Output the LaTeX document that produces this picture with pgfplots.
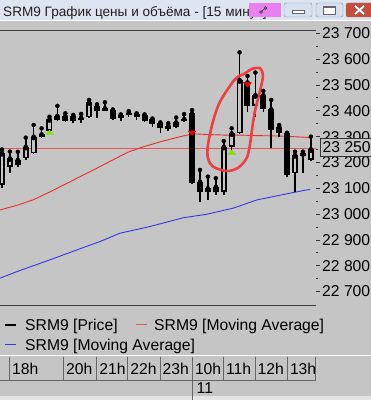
\documentclass[border=0pt]{standalone}
\usepackage{pgfplots}
\pgfplotsset{compat=1.18}
\usepackage{pgfplotstable}
\usepackage{fontspec}
\setmainfont{Liberation Sans}
\newcommand\ticksize{\fontsize{15.7}{16}\selectfont}
\newcommand\titlesize{\fontsize{13.6}{15}\selectfont}
\definecolor{chartbg}{RGB}{197,197,197}
\definecolor{titlebg}{RGB}{221,229,240}
\definecolor{pinkc}{RGB}{232,128,240}
\definecolor{redma}{RGB}{235,45,45}
\definecolor{pricec}{RGB}{228,90,90}
\definecolor{bluema}{RGB}{55,55,230}
\definecolor{ovalc}{RGB}{238,64,64}
\definecolor{limec}{RGB}{120,230,0}
\definecolor{redm}{RGB}{235,0,0}
\definecolor{btnfill}{RGB}{214,225,240}
\definecolor{btnborder}{RGB}{130,145,170}
\definecolor{closefill}{RGB}{200,75,60}

\pgfplotstableread{
i o h l c
0 23113 23250 23100 23237
1 23184 23242 23158 23216
3 23216 23296 23210 23261
4 23236 23345 23232 23300
6 23322 23377 23320 23368
7 23364 23419 23360 23381
11 23375 23442 23372 23433
22 23336 23374 23334 23355
28 23087 23283 23074 23261
29 23261 23332 23236 23313
30 23313 23626 23310 23519
32 23420 23548 23377 23461
37 23158 23242 23087 23229
38 23224 23242 23158 23236
39 23210 23300 23205 23251
}\upc

\pgfplotstableread{
i o h l c
2 23210 23241 23183 23190
5 23309 23332 23295 23297
8 23380 23390 23358 23362
9 23380 23384 23352 23361
10 23374 23388 23352 23366
12 23420 23425 23371 23399
13 23410 23433 23398 23401
14 23403 23405 23365 23368
15 23384 23386 23362 23371
16 23392 23399 23375 23384
17 23388 23390 23365 23375
18 23384 23386 23358 23361
19 23368 23370 23339 23348
20 23352 23355 23313 23332
21 23343 23352 23320 23328
23 23368 23387 23358 23361
24 23390 23403 23115 23119
25 23126 23171 23048 23087
26 23100 23145 23055 23087
27 23106 23139 23074 23087
31 23510 23535 23395 23420
33 23461 23477 23394 23407
34 23406 23442 23255 23326
35 23339 23345 23300 23313
36 23313 23315 23145 23152
}\downc

\begin{document}
\begin{tikzpicture}
\useasboundingbox (0,0) rectangle (371pt,400pt);
\clip (0,0) rectangle (371pt,400pt);
% backgrounds
\fill[chartbg] (0,0) rectangle (371pt,380pt);
\fill[black!10] (0,0) rectangle (371pt,3.5pt);
\fill[titlebg] (0,380pt) rectangle (371pt,400pt);
\draw[white, line width=0.8pt] (0,379.6pt) -- (371pt,379.6pt);
% title bar
\node[anchor=base west, inner sep=0, font=\titlesize, text=black!88] at (3pt,383.3pt) {SRM9 График цены и объёма - [15 минут]};
\fill[pinkc] (249pt,383pt) rectangle (281pt,397pt);
\draw[black!75, line width=0.7pt] (261pt,388pt) circle (1.4pt) (265.5pt,392pt) circle (1.4pt);
\draw[black!75, line width=0.7pt] (262pt,389pt) -- (264.5pt,391pt);
\draw[btnborder, fill=btnfill, rounded corners=2pt] (284pt,383pt) rectangle (312pt,397pt);
\draw[black!60, fill=white, line width=0.6pt] (292pt,387pt) rectangle (304pt,390pt);
\draw[btnborder, fill=btnfill, rounded corners=2pt] (316pt,383pt) rectangle (343pt,397pt);
\draw[black!60, fill=white, line width=0.6pt] (323pt,386pt) rectangle (335pt,394pt);
\draw[black!60, line width=1.6pt] (323pt,393.2pt) -- (335pt,393.2pt);
\draw[black!50, fill=closefill, rounded corners=2pt] (346pt,383pt) rectangle (376pt,397pt);
\draw[black!60, line width=3pt] (355pt,386pt) -- (364pt,394pt) (355pt,394pt) -- (364pt,386pt);
\draw[white, line width=1.8pt] (355pt,386pt) -- (364pt,394pt) (355pt,394pt) -- (364pt,386pt);

\begin{axis}[
  at={(0pt,95pt)}, anchor=south west,
  scale only axis, width=316pt, height=275pt,
  xmin=-0.25, xmax=39.65, ymin=22648, ymax=23712.8,
  axis line style={draw=none},
  xtick=\empty,
  ytick={22700,22800,22900,23000,23100,23200,23300,23400,23500,23600,23700},
  yticklabels={22 700,22 800,22 900,23 000,23 100,23 200,23 300,23 400,23 500,23 600,23 700},
  ytick pos=right, yticklabel pos=right,
  tick align=outside,
  major tick length=4pt, minor tick length=2.5pt,
  minor y tick num=1,
  every tick/.style={black!80, line width=0.8pt},
  yticklabel style={font=\ticksize, anchor=west, inner sep=0pt, xshift=2pt},
  scaled y ticks=false,
]
% price line and moving averages
\addplot[pricec, line width=1pt, forget plot] coordinates {(-0.25,23255) (39.65,23255)};
\addplot[redma, line width=0.9pt, forget plot] coordinates {
(-0.25,23016) (2,23035) (4,23056) (6,23085) (8,23116) (10,23147) (12,23178)
(14,23210) (16,23241) (18,23262) (20,23280) (22,23296) (23.4,23306) (24,23311)
(26,23308) (28,23306) (30,23306) (32,23304) (34,23303) (36,23301) (38,23298) (39,23296)};
\addplot[bluema, line width=0.9pt, forget plot] coordinates {
(-0.25,22752) (1.86,22777) (6.06,22823) (9.43,22861) (12.4,22894) (14.9,22926)
(18.7,22952) (22.9,22986) (25.8,22999) (29.2,23023) (32.2,23055) (36.7,23083) (38.9,23096)};
% wicks
\addplot[only marks, mark=none, forget plot, error bars/.cd, y dir=minus, y explicit, error mark=none,
  error bar style={line width=1.6pt, draw=black}]
  table[x=i, y=h, y error minus expr={\thisrow{h}-\thisrow{l}}] {\upc};
\addplot[only marks, mark=none, forget plot, error bars/.cd, y dir=minus, y explicit, error mark=none,
  error bar style={line width=1.6pt, draw=black}]
  table[x=i, y=h, y error minus expr={\thisrow{h}-\thisrow{l}}] {\downc};
% bodies
\addplot[only marks, mark=none, forget plot, error bars/.cd, y dir=minus, y explicit, error mark=none,
  error bar style={line width=6pt, draw=black}]
  table[x=i, y=o, y error minus expr={\thisrow{o}-\thisrow{c}}] {\downc};
\addplot[only marks, mark=none, forget plot, error bars/.cd, y dir=minus, y explicit, error mark=none,
  error bar style={line width=6pt, draw=black}]
  table[x=i, y=c, y error minus expr={\thisrow{c}-\thisrow{o}}] {\upc};
\addplot[only marks, mark=none, forget plot, error bars/.cd, y dir=minus, y explicit, error mark=none,
  error bar style={line width=2.4pt, draw=chartbg}]
  table[x=i, y expr={\thisrow{c}-6}, y error minus expr={max(\thisrow{c}-\thisrow{o}-12,0)}] {\upc};
% signal markers
\addplot[only marks, mark=triangle*, mark size=4.6pt, mark options={yscale=0.65, fill=limec, draw=limec}, forget plot]
  coordinates {(6,23314) (29,23237)};
\addplot[only marks, mark=triangle*, mark size=4.6pt, mark options={rotate=180, yscale=0.65, fill=redm, draw=redm}, forget plot]
  coordinates {(24,23316) (31,23503)};
% hand-drawn annotation
\addplot[ovalc, line width=2.6pt, smooth, tension=0.55, forget plot] coordinates {
(29.80,23532) (29.17,23513) (27.53,23435) (26.64,23358) (26.01,23268) (26.01,23217)
(26.64,23184) (28.37,23167) (29.80,23179) (30.90,23217) (31.31,23268) (31.60,23333)
(31.95,23400) (32.45,23461) (32.85,23513) (32.95,23540) (32.58,23565) (31.53,23562)
(30.68,23545) (29.80,23532) (29.17,23513)};
% frame
\draw[black!75, line width=0.9pt] (rel axis cs:0,1) -- (rel axis cs:1,1) -- (rel axis cs:1,0) -- (rel axis cs:0,0);
\end{axis}

% current price box
\draw[black!80, fill=chartbg, line width=0.8pt] (320pt,243.3pt) rectangle (380pt,261.7pt);
\node[anchor=west, inner sep=0, font=\ticksize] at (322.5pt,252.5pt) {23 250};

% legend
\draw[black, line width=2.6pt] (5pt,75pt) -- (16pt,75pt);
\node[anchor=base west, inner sep=0, font=\ticksize] at (25pt,69.4pt) {SRM9 [Price]};
\draw[pricec, line width=1pt] (136pt,75pt) -- (147pt,75pt);
\node[anchor=base west, inner sep=0, font=\ticksize] at (154pt,69.4pt) {SRM9 [Moving Average]};
\draw[bluema, line width=1pt] (5pt,55pt) -- (16pt,55pt);
\node[anchor=base west, inner sep=0, font=\ticksize] at (25pt,49.3pt) {SRM9 [Moving Average]};

% time scale
\draw[white, line width=1.2pt] (0,44.5pt) -- (371pt,44.5pt);
\draw[black!60, line width=0.9pt] (0,20pt) -- (316pt,20pt);
\foreach \sx in {9,63.3,96.7,127.7,160,192.3,223.3,255,287.3,315.7}
  \draw[black!60, line width=0.8pt] (\sx pt,20pt) -- (\sx pt,42.5pt);
\draw[black!60, line width=0.8pt] (192.3pt,0pt) -- (192.3pt,20pt);
\foreach \sx/\lab in {12/18h,66/20h,99.2/21h,130.2/22h,162.5/23h,194.8/10h,225.8/11h,257.5/12h,289.8/13h}
  \node[anchor=base west, inner sep=0, font=\ticksize] at (\sx pt,25pt) {\lab};
\node[anchor=base west, inner sep=0, font=\ticksize] at (196.5pt,6pt) {11};
\end{tikzpicture}
\end{document}
